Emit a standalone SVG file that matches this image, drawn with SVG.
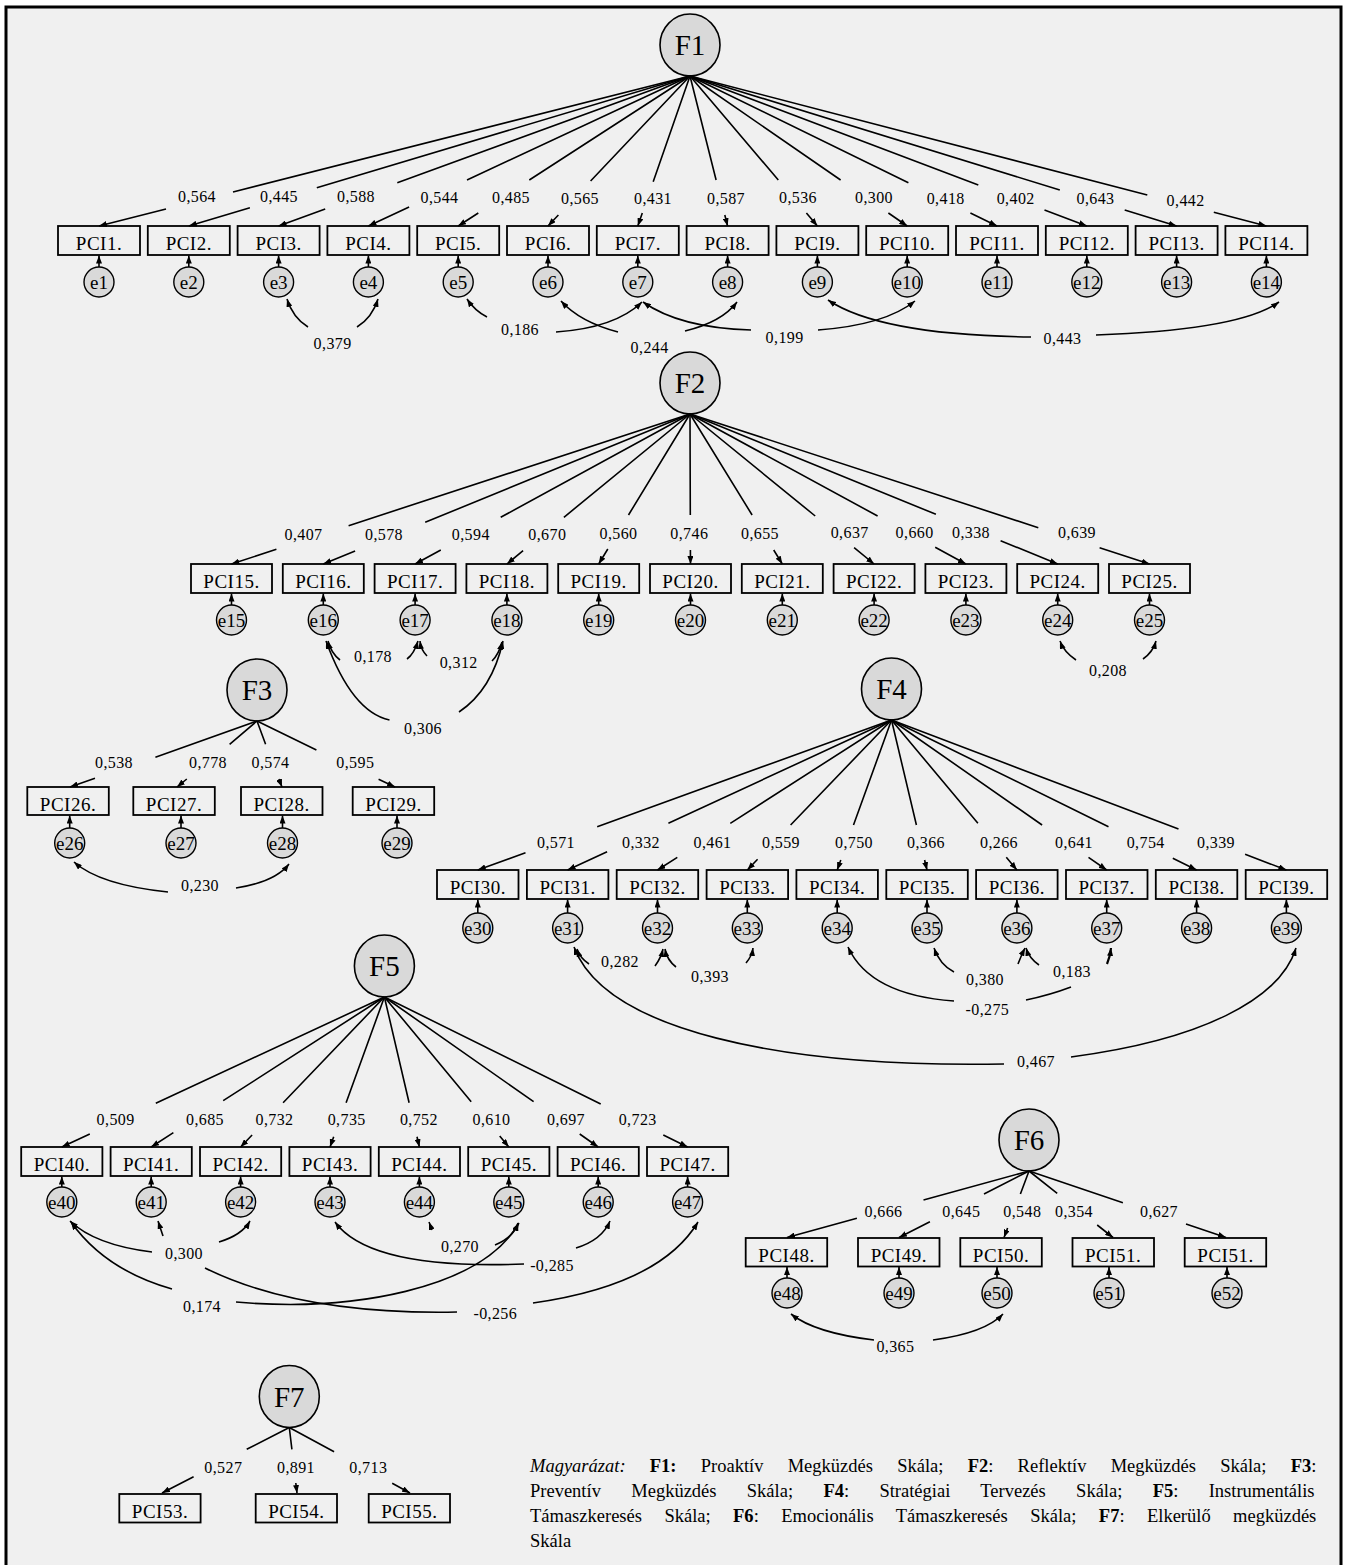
<svg xmlns="http://www.w3.org/2000/svg" width="1345" height="1565" viewBox="0 0 1345 1565">
<style>
.frame{fill:#f0f0f0;stroke:#000;stroke-width:3}
.lv{fill:#d9d9d9;stroke:#000;stroke-width:1.6}
.er{fill:#d9d9d9;stroke:#000;stroke-width:1.4}
.bx{fill:#f0f0f0;stroke:#000;stroke-width:1.8}
text{font-family:"Liberation Serif","Times New Roman",serif;fill:#000}
.fl{font-size:29px;text-anchor:middle}
.bl{font-size:19px;text-anchor:middle;letter-spacing:0.5px}
.el{font-size:19px;text-anchor:middle}
.nl text{font-size:16px;text-anchor:middle;letter-spacing:0.4px}
.lg{font-size:18.5px}
.cn path{fill:none;stroke:#000;stroke-width:1.6}
</style>
<defs>
<marker id="ah" viewBox="0 0 8 6" refX="8" refY="3" markerWidth="8" markerHeight="6" markerUnits="userSpaceOnUse" orient="auto"><path d="M0,0 L8,3 L0,6 z" fill="#000"/></marker>
</defs>
<rect width="1345" height="1565" fill="#fff"/>
<rect class="frame" x="6" y="7" width="1335" height="1600"/>

<!-- latent factors -->
<g id="F1"><ellipse class="lv" cx="690" cy="45" rx="30" ry="31"/><text class="fl" x="690" y="55">F1</text></g>
<g id="F2"><ellipse class="lv" cx="690" cy="383" rx="30" ry="31"/><text class="fl" x="690" y="393">F2</text></g>
<g id="F3"><ellipse class="lv" cx="257" cy="690" rx="30" ry="31"/><text class="fl" x="257" y="700">F3</text></g>
<g id="F4"><ellipse class="lv" cx="891.5" cy="689" rx="30" ry="31"/><text class="fl" x="891.5" y="699">F4</text></g>
<g id="F5"><ellipse class="lv" cx="384.4" cy="966" rx="30" ry="31"/><text class="fl" x="384.4" y="976">F5</text></g>
<g id="F6"><ellipse class="lv" cx="1029" cy="1140" rx="30" ry="31"/><text class="fl" x="1029" y="1150">F6</text></g>
<g id="F7"><ellipse class="lv" cx="289.3" cy="1396.5" rx="30" ry="31"/><text class="fl" x="289.3" y="1406.5">F7</text></g>

<!-- observed items F1 -->
<g id="PCI1"><rect class="bx" x="58" y="226" width="82" height="29"/><text class="bl" x="99" y="250">PCI1.</text></g>
<g id="PCI2"><rect class="bx" x="147.8" y="226" width="82" height="29"/><text class="bl" x="188.8" y="250">PCI2.</text></g>
<g id="PCI3"><rect class="bx" x="237.6" y="226" width="82" height="29"/><text class="bl" x="278.6" y="250">PCI3.</text></g>
<g id="PCI4"><rect class="bx" x="327.4" y="226" width="82" height="29"/><text class="bl" x="368.4" y="250">PCI4.</text></g>
<g id="PCI5"><rect class="bx" x="417.2" y="226" width="82" height="29"/><text class="bl" x="458.2" y="250">PCI5.</text></g>
<g id="PCI6"><rect class="bx" x="507" y="226" width="82" height="29"/><text class="bl" x="548" y="250">PCI6.</text></g>
<g id="PCI7"><rect class="bx" x="596.8" y="226" width="82" height="29"/><text class="bl" x="637.8" y="250">PCI7.</text></g>
<g id="PCI8"><rect class="bx" x="686.6" y="226" width="82" height="29"/><text class="bl" x="727.6" y="250">PCI8.</text></g>
<g id="PCI9"><rect class="bx" x="776.4" y="226" width="82" height="29"/><text class="bl" x="817.4" y="250">PCI9.</text></g>
<g id="PCI10"><rect class="bx" x="866.2" y="226" width="82" height="29"/><text class="bl" x="907.2" y="250">PCI10.</text></g>
<g id="PCI11"><rect class="bx" x="956" y="226" width="82" height="29"/><text class="bl" x="997" y="250">PCI11.</text></g>
<g id="PCI12"><rect class="bx" x="1045.8" y="226" width="82" height="29"/><text class="bl" x="1086.8" y="250">PCI12.</text></g>
<g id="PCI13"><rect class="bx" x="1135.6" y="226" width="82" height="29"/><text class="bl" x="1176.6" y="250">PCI13.</text></g>
<g id="PCI14"><rect class="bx" x="1225.4" y="226" width="82" height="29"/><text class="bl" x="1266.4" y="250">PCI14.</text></g>
<!-- F2 items -->
<g id="PCI15"><rect class="bx" x="191" y="564" width="81" height="29"/><text class="bl" x="231.5" y="588">PCI15.</text></g>
<g id="PCI16"><rect class="bx" x="282.8" y="564" width="81" height="29"/><text class="bl" x="323.3" y="588">PCI16.</text></g>
<g id="PCI17"><rect class="bx" x="374.6" y="564" width="81" height="29"/><text class="bl" x="415.1" y="588">PCI17.</text></g>
<g id="PCI18"><rect class="bx" x="466.4" y="564" width="81" height="29"/><text class="bl" x="506.9" y="588">PCI18.</text></g>
<g id="PCI19"><rect class="bx" x="558.2" y="564" width="81" height="29"/><text class="bl" x="598.7" y="588">PCI19.</text></g>
<g id="PCI20"><rect class="bx" x="650" y="564" width="81" height="29"/><text class="bl" x="690.5" y="588">PCI20.</text></g>
<g id="PCI21"><rect class="bx" x="741.8" y="564" width="81" height="29"/><text class="bl" x="782.3" y="588">PCI21.</text></g>
<g id="PCI22"><rect class="bx" x="833.6" y="564" width="81" height="29"/><text class="bl" x="874.1" y="588">PCI22.</text></g>
<g id="PCI23"><rect class="bx" x="925.4" y="564" width="81" height="29"/><text class="bl" x="965.9" y="588">PCI23.</text></g>
<g id="PCI24"><rect class="bx" x="1017.2" y="564" width="81" height="29"/><text class="bl" x="1057.7" y="588">PCI24.</text></g>
<g id="PCI25"><rect class="bx" x="1109" y="564" width="81" height="29"/><text class="bl" x="1149.5" y="588">PCI25.</text></g>
<!-- F3 items -->
<g id="PCI26"><rect class="bx" x="27.3" y="787" width="81.5" height="28"/><text class="bl" x="68" y="811">PCI26.</text></g>
<g id="PCI27"><rect class="bx" x="133.3" y="787" width="81.5" height="28"/><text class="bl" x="174" y="811">PCI27.</text></g>
<g id="PCI28"><rect class="bx" x="241" y="787" width="81.5" height="28"/><text class="bl" x="281.7" y="811">PCI28.</text></g>
<g id="PCI29"><rect class="bx" x="352.7" y="787" width="81.5" height="28"/><text class="bl" x="393.5" y="811">PCI29.</text></g>
<!-- F4 items -->
<g id="PCI30"><rect class="bx" x="437" y="870" width="81.5" height="29"/><text class="bl" x="477.8" y="894">PCI30.</text></g>
<g id="PCI31"><rect class="bx" x="526.9" y="870" width="81.5" height="29"/><text class="bl" x="567.6" y="894">PCI31.</text></g>
<g id="PCI32"><rect class="bx" x="616.7" y="870" width="81.5" height="29"/><text class="bl" x="657.5" y="894">PCI32.</text></g>
<g id="PCI33"><rect class="bx" x="706.6" y="870" width="81.5" height="29"/><text class="bl" x="747.3" y="894">PCI33.</text></g>
<g id="PCI34"><rect class="bx" x="796.4" y="870" width="81.5" height="29"/><text class="bl" x="837.2" y="894">PCI34.</text></g>
<g id="PCI35"><rect class="bx" x="886.3" y="870" width="81.5" height="29"/><text class="bl" x="927" y="894">PCI35.</text></g>
<g id="PCI36"><rect class="bx" x="976.1" y="870" width="81.5" height="29"/><text class="bl" x="1016.9" y="894">PCI36.</text></g>
<g id="PCI37"><rect class="bx" x="1066" y="870" width="81.5" height="29"/><text class="bl" x="1106.7" y="894">PCI37.</text></g>
<g id="PCI38"><rect class="bx" x="1155.8" y="870" width="81.5" height="29"/><text class="bl" x="1196.6" y="894">PCI38.</text></g>
<g id="PCI39"><rect class="bx" x="1245.7" y="870" width="81.5" height="29"/><text class="bl" x="1286.4" y="894">PCI39.</text></g>
<!-- F5 items -->
<g id="PCI40"><rect class="bx" x="21.2" y="1147" width="81.2" height="29"/><text class="bl" x="61.8" y="1171">PCI40.</text></g>
<g id="PCI41"><rect class="bx" x="110.6" y="1147" width="81.2" height="29"/><text class="bl" x="151.2" y="1171">PCI41.</text></g>
<g id="PCI42"><rect class="bx" x="200" y="1147" width="81.2" height="29"/><text class="bl" x="240.6" y="1171">PCI42.</text></g>
<g id="PCI43"><rect class="bx" x="289.4" y="1147" width="81.2" height="29"/><text class="bl" x="330" y="1171">PCI43.</text></g>
<g id="PCI44"><rect class="bx" x="378.8" y="1147" width="81.2" height="29"/><text class="bl" x="419.4" y="1171">PCI44.</text></g>
<g id="PCI45"><rect class="bx" x="468.2" y="1147" width="81.2" height="29"/><text class="bl" x="508.8" y="1171">PCI45.</text></g>
<g id="PCI46"><rect class="bx" x="557.6" y="1147" width="81.2" height="29"/><text class="bl" x="598.2" y="1171">PCI46.</text></g>
<g id="PCI47"><rect class="bx" x="647" y="1147" width="81.2" height="29"/><text class="bl" x="687.6" y="1171">PCI47.</text></g>
<!-- F6 items -->
<g id="PCI48"><rect class="bx" x="745.7" y="1238" width="81.5" height="28.5"/><text class="bl" x="786.5" y="1262">PCI48.</text></g>
<g id="PCI49"><rect class="bx" x="858" y="1238" width="81.5" height="28.5"/><text class="bl" x="898.8" y="1262">PCI49.</text></g>
<g id="PCI50"><rect class="bx" x="960.3" y="1238" width="81.5" height="28.5"/><text class="bl" x="1001" y="1262">PCI50.</text></g>
<g id="PCI51"><rect class="bx" x="1072.5" y="1238" width="81.5" height="28.5"/><text class="bl" x="1113.2" y="1262">PCI51.</text></g>
<g id="PCI51b"><rect class="bx" x="1184.7" y="1238" width="81.5" height="28.5"/><text class="bl" x="1225.5" y="1262">PCI51.</text></g>
<!-- F7 items -->
<g id="PCI53"><rect class="bx" x="119.3" y="1494" width="81.3" height="28.5"/><text class="bl" x="160" y="1518">PCI53.</text></g>
<g id="PCI54"><rect class="bx" x="255.7" y="1494" width="81.3" height="28.5"/><text class="bl" x="296.3" y="1518">PCI54.</text></g>
<g id="PCI55"><rect class="bx" x="368.7" y="1494" width="81.3" height="28.5"/><text class="bl" x="409.3" y="1518">PCI55.</text></g>

<!-- error terms -->
<g id="e1"><circle class="er" cx="99" cy="282" r="15"/><text class="el" x="99" y="289">e1</text></g>
<g id="e2"><circle class="er" cx="188.8" cy="282" r="15"/><text class="el" x="188.8" y="289">e2</text></g>
<g id="e3"><circle class="er" cx="278.6" cy="282" r="15"/><text class="el" x="278.6" y="289">e3</text></g>
<g id="e4"><circle class="er" cx="368.4" cy="282" r="15"/><text class="el" x="368.4" y="289">e4</text></g>
<g id="e5"><circle class="er" cx="458.2" cy="282" r="15"/><text class="el" x="458.2" y="289">e5</text></g>
<g id="e6"><circle class="er" cx="548" cy="282" r="15"/><text class="el" x="548" y="289">e6</text></g>
<g id="e7"><circle class="er" cx="637.8" cy="282" r="15"/><text class="el" x="637.8" y="289">e7</text></g>
<g id="e8"><circle class="er" cx="727.6" cy="282" r="15"/><text class="el" x="727.6" y="289">e8</text></g>
<g id="e9"><circle class="er" cx="817.4" cy="282" r="15"/><text class="el" x="817.4" y="289">e9</text></g>
<g id="e10"><circle class="er" cx="907.2" cy="282" r="15"/><text class="el" x="907.2" y="289">e10</text></g>
<g id="e11"><circle class="er" cx="997" cy="282" r="15"/><text class="el" x="997" y="289">e11</text></g>
<g id="e12"><circle class="er" cx="1086.8" cy="282" r="15"/><text class="el" x="1086.8" y="289">e12</text></g>
<g id="e13"><circle class="er" cx="1176.6" cy="282" r="15"/><text class="el" x="1176.6" y="289">e13</text></g>
<g id="e14"><circle class="er" cx="1266.4" cy="282" r="15"/><text class="el" x="1266.4" y="289">e14</text></g>
<g id="e15"><circle class="er" cx="231.5" cy="620" r="15"/><text class="el" x="231.5" y="627">e15</text></g>
<g id="e16"><circle class="er" cx="323.3" cy="620" r="15"/><text class="el" x="323.3" y="627">e16</text></g>
<g id="e17"><circle class="er" cx="415.1" cy="620" r="15"/><text class="el" x="415.1" y="627">e17</text></g>
<g id="e18"><circle class="er" cx="506.9" cy="620" r="15"/><text class="el" x="506.9" y="627">e18</text></g>
<g id="e19"><circle class="er" cx="598.7" cy="620" r="15"/><text class="el" x="598.7" y="627">e19</text></g>
<g id="e20"><circle class="er" cx="690.5" cy="620" r="15"/><text class="el" x="690.5" y="627">e20</text></g>
<g id="e21"><circle class="er" cx="782.3" cy="620" r="15"/><text class="el" x="782.3" y="627">e21</text></g>
<g id="e22"><circle class="er" cx="874.1" cy="620" r="15"/><text class="el" x="874.1" y="627">e22</text></g>
<g id="e23"><circle class="er" cx="965.9" cy="620" r="15"/><text class="el" x="965.9" y="627">e23</text></g>
<g id="e24"><circle class="er" cx="1057.7" cy="620" r="15"/><text class="el" x="1057.7" y="627">e24</text></g>
<g id="e25"><circle class="er" cx="1149.5" cy="620" r="15"/><text class="el" x="1149.5" y="627">e25</text></g>
<g id="e26"><circle class="er" cx="69.7" cy="843" r="15"/><text class="el" x="69.7" y="850">e26</text></g>
<g id="e27"><circle class="er" cx="181" cy="843" r="15"/><text class="el" x="181" y="850">e27</text></g>
<g id="e28"><circle class="er" cx="282.5" cy="843" r="15"/><text class="el" x="282.5" y="850">e28</text></g>
<g id="e29"><circle class="er" cx="397" cy="843" r="15"/><text class="el" x="397" y="850">e29</text></g>
<g id="e30"><circle class="er" cx="477.8" cy="928" r="15"/><text class="el" x="477.8" y="935">e30</text></g>
<g id="e31"><circle class="er" cx="567.6" cy="928" r="15"/><text class="el" x="567.6" y="935">e31</text></g>
<g id="e32"><circle class="er" cx="657.5" cy="928" r="15"/><text class="el" x="657.5" y="935">e32</text></g>
<g id="e33"><circle class="er" cx="747.3" cy="928" r="15"/><text class="el" x="747.3" y="935">e33</text></g>
<g id="e34"><circle class="er" cx="837.2" cy="928" r="15"/><text class="el" x="837.2" y="935">e34</text></g>
<g id="e35"><circle class="er" cx="927" cy="928" r="15"/><text class="el" x="927" y="935">e35</text></g>
<g id="e36"><circle class="er" cx="1016.9" cy="928" r="15"/><text class="el" x="1016.9" y="935">e36</text></g>
<g id="e37"><circle class="er" cx="1106.7" cy="928" r="15"/><text class="el" x="1106.7" y="935">e37</text></g>
<g id="e38"><circle class="er" cx="1196.6" cy="928" r="15"/><text class="el" x="1196.6" y="935">e38</text></g>
<g id="e39"><circle class="er" cx="1286.4" cy="928" r="15"/><text class="el" x="1286.4" y="935">e39</text></g>
<g id="e40"><circle class="er" cx="61.8" cy="1202" r="15"/><text class="el" x="61.8" y="1209">e40</text></g>
<g id="e41"><circle class="er" cx="151.2" cy="1202" r="15"/><text class="el" x="151.2" y="1209">e41</text></g>
<g id="e42"><circle class="er" cx="240.6" cy="1202" r="15"/><text class="el" x="240.6" y="1209">e42</text></g>
<g id="e43"><circle class="er" cx="330" cy="1202" r="15"/><text class="el" x="330" y="1209">e43</text></g>
<g id="e44"><circle class="er" cx="419.4" cy="1202" r="15"/><text class="el" x="419.4" y="1209">e44</text></g>
<g id="e45"><circle class="er" cx="508.8" cy="1202" r="15"/><text class="el" x="508.8" y="1209">e45</text></g>
<g id="e46"><circle class="er" cx="598.2" cy="1202" r="15"/><text class="el" x="598.2" y="1209">e46</text></g>
<g id="e47"><circle class="er" cx="687.6" cy="1202" r="15"/><text class="el" x="687.6" y="1209">e47</text></g>
<g id="e48"><circle class="er" cx="787" cy="1293" r="15"/><text class="el" x="787" y="1300">e48</text></g>
<g id="e49"><circle class="er" cx="899" cy="1293" r="15"/><text class="el" x="899" y="1300">e49</text></g>
<g id="e50"><circle class="er" cx="997" cy="1293" r="15"/><text class="el" x="997" y="1300">e50</text></g>
<g id="e51"><circle class="er" cx="1109" cy="1293" r="15"/><text class="el" x="1109" y="1300">e51</text></g>
<g id="e52"><circle class="er" cx="1227" cy="1293" r="15"/><text class="el" x="1227" y="1300">e52</text></g>

<!-- connectors -->
<g id="connectors" class="cn" marker-end="url(#ah)">
<!-- F1 loadings -->
<path d="M690 76 L233 192 M166 209 L99 226"/>
<path d="M690 76 L316.8 187.7 M249.9 207.7 L188.8 226"/>
<path d="M690 76 L397.3 182.7 M325.2 209 L278.6 226"/>
<path d="M690 76 L467 180 M409.1 207 L368.4 226"/>
<path d="M690 76 L529.3 180 M478.3 213 L458.2 226"/>
<path d="M690 76 L590.6 181 M558.4 215 L548 226"/>
<path d="M690 76 L653.2 181.7 M642.3 213 L637.8 226"/>
<path d="M690 76 L716.1 180 M724.8 215 L727.6 226"/>
<path d="M690 76 L778.3 180 M806.4 213 L817.4 226"/>
<path d="M690 76 L840.6 180 M888.4 213 L907.2 226"/>
<path d="M690 76 L908.4 182.7 M970.4 213 L997 226"/>
<path d="M690 76 L978.3 185 M1044.5 210 L1086.8 226"/>
<path d="M690 76 L1059.8 190 M1124.7 210 L1176.6 226"/>
<path d="M690 76 L1147.3 195 M1213.8 212.3 L1266.4 226"/>
<!-- F2 loadings -->
<path d="M690 414 L348.6 525.7 M276.4 549.3 L231.5 564"/>
<path d="M690 414 L425.2 522.3 M355.1 551 L323.3 564"/>
<path d="M690 414 L500.7 517.3 M440.8 550 L415.1 564"/>
<path d="M690 414 L563.9 517.3 M523.1 550.7 L506.9 564"/>
<path d="M690 414 L628.5 515 M607.8 549 L598.7 564"/>
<path d="M690 414 L690.3 515 M690.4 550 L690.5 564"/>
<path d="M690 414 L752.1 515 M773.7 550 L782.3 564"/>
<path d="M690 414 L815.2 516 M854.1 547.7 L874.1 564"/>
<path d="M690 414 L877.6 516 M935.2 547.3 L965.9 564"/>
<path d="M690 414 L935.9 514.3 M1000.6 540.7 L1057.7 564"/>
<path d="M690 414 L1038.3 527.7 M1099.6 547.7 L1149.5 564"/>
<!-- F3 loadings -->
<path d="M257 721 L155.4 757.3 M95 778.3 L70 787"/>
<path d="M257 721 L229.6 744.3 M186.8 779 L177 787"/>
<path d="M257 721 L265.6 744.3 M278.9 779 L282 787"/>
<path d="M257 721 L316.4 750 M378.6 779.3 L395 787"/>
<!-- F4 loadings -->
<path d="M891.5 720 L597.2 826.7 M525.5 852.7 L477.8 870"/>
<path d="M891.5 720 L668.4 823.3 M607.1 851.7 L567.6 870"/>
<path d="M891.5 720 L730.3 823.3 M677.3 857.3 L657.5 870"/>
<path d="M891.5 720 L790.6 825 M757.6 859.3 L747.3 870"/>
<path d="M891.5 720 L853.5 825 M840.8 860 L837.2 870"/>
<path d="M891.5 720 L916.4 825 M924.6 860 L927 870"/>
<path d="M891.5 720 L977.9 823.3 M1006.3 857.3 L1016.9 870"/>
<path d="M891.5 720 L1042.1 825 M1088.5 857.3 L1106.7 870"/>
<path d="M891.5 720 L1108.5 826.7 M1172.8 858.3 L1196.6 870"/>
<path d="M891.5 720 L1178.5 829 M1245.1 854.3 L1286.4 870"/>
<!-- F5 loadings -->
<path d="M384.4 997 L155.8 1103.3 M89.8 1134 L61.8 1147"/>
<path d="M384.4 997 L223.2 1100.7 M173.4 1132.7 L151.2 1147"/>
<path d="M384.4 997 L283.1 1102.7 M252.1 1135 L240.6 1147"/>
<path d="M384.4 997 L346.1 1102.7 M333.7 1136.7 L330 1147"/>
<path d="M384.4 997 L409.1 1102.7 M417 1136.7 L419.4 1147"/>
<path d="M384.4 997 L471.2 1101.7 M499.7 1136 L508.8 1147"/>
<path d="M384.4 997 L533.6 1101.7 M579.7 1134 L598.2 1147"/>
<path d="M384.4 997 L600.7 1104 M663.3 1135 L687.6 1147"/>
<!-- F6 loadings -->
<path d="M1029 1171 L923.5 1200 M856.9 1218.3 L787 1237.5"/>
<path d="M1029 1171 L984 1194 M929.9 1221.7 L899 1237.5"/>
<path d="M1029 1171 L1020.4 1194 M1007.6 1228 L1004 1237.5"/>
<path d="M1029 1171 L1057.2 1193.3 M1097.2 1225 L1113 1237.5"/>
<path d="M1029 1171 L1122.9 1202.7 M1186 1224 L1226 1237.5"/>
<!-- F7 loadings -->
<path d="M289.3 1427.5 L246.7 1449.3 M193.6 1476.7 L162 1493"/>
<path d="M289.3 1427.5 L291.9 1449.3 M295.8 1483 L297 1493"/>
<path d="M289.3 1427.5 L334.1 1451.7 M392.2 1483.3 L410 1493"/>
<!-- error paths -->
<path d="M99 267 V255.5"/><path d="M188.8 267 V255.5"/><path d="M278.6 267 V255.5"/><path d="M368.4 267 V255.5"/><path d="M458.2 267 V255.5"/><path d="M548 267 V255.5"/><path d="M637.8 267 V255.5"/><path d="M727.6 267 V255.5"/><path d="M817.4 267 V255.5"/><path d="M907.2 267 V255.5"/><path d="M997 267 V255.5"/><path d="M1086.8 267 V255.5"/><path d="M1176.6 267 V255.5"/><path d="M1266.4 267 V255.5"/>
<path d="M231.5 605 V593.5"/><path d="M323.3 605 V593.5"/><path d="M415.1 605 V593.5"/><path d="M506.9 605 V593.5"/><path d="M598.7 605 V593.5"/><path d="M690.5 605 V593.5"/><path d="M782.3 605 V593.5"/><path d="M874.1 605 V593.5"/><path d="M965.9 605 V593.5"/><path d="M1057.7 605 V593.5"/><path d="M1149.5 605 V593.5"/>
<path d="M69.7 828 V815.5"/><path d="M181 828 V815.5"/><path d="M282.5 828 V815.5"/><path d="M397 828 V815.5"/>
<path d="M477.8 913 V899.5"/><path d="M567.6 913 V899.5"/><path d="M657.5 913 V899.5"/><path d="M747.3 913 V899.5"/><path d="M837.2 913 V899.5"/><path d="M927 913 V899.5"/><path d="M1016.9 913 V899.5"/><path d="M1106.7 913 V899.5"/><path d="M1196.6 913 V899.5"/><path d="M1286.4 913 V899.5"/>
<path d="M61.8 1187 V1176.5"/><path d="M151.2 1187 V1176.5"/><path d="M240.6 1187 V1176.5"/><path d="M330 1187 V1176.5"/><path d="M419.4 1187 V1176.5"/><path d="M508.8 1187 V1176.5"/><path d="M598.2 1187 V1176.5"/><path d="M687.6 1187 V1176.5"/>
<path d="M787 1278 V1267"/><path d="M899 1278 V1267"/><path d="M997 1278 V1267"/><path d="M1109 1278 V1267"/><path d="M1227 1278 V1267"/>
<!-- covariances F1 -->
<path d="M308 327 Q293 318 287 299"/>
<path d="M357 327 Q372 318 378 299"/>
<path d="M487 317 Q475 311 467 299"/>
<path d="M556 332 Q615 328 642 302"/>
<path d="M618 332 Q580 322 561 301"/>
<path d="M685 331 Q722 322 737 302"/>
<path d="M751 330 Q680 328 643 302"/>
<path d="M818 330 Q885 325 915 301"/>
<path d="M1031 337 Q880 335 828 300"/>
<path d="M1096 335 Q1240 330 1279 302"/>
<!-- covariances F2 -->
<path d="M389.5 720 Q352 712 326 641"/>
<path d="M459 712 Q492 690 503 641"/>
<path d="M340 660 Q331 653 328 641"/>
<path d="M407 659 Q414 654 418 641"/>
<path d="M427 656 Q421 650 420 641"/>
<path d="M492 661 Q499 654 502 642"/>
<path d="M1076 660 Q1064 652 1060 641"/>
<path d="M1143 659 Q1153 652 1156 641"/>
<!-- covariances F3 -->
<path d="M168 892 Q100 885 74 862"/>
<path d="M236 888 Q275 882 289 864"/>
<!-- covariances F4 -->
<path d="M1004 1064 C780 1068 605 1030 574 947"/>
<path d="M1071 1057 C1200 1040 1280 1000 1296 948"/>
<path d="M589 964 Q580 958 577 949"/>
<path d="M655 966 Q661 958 663 949"/>
<path d="M676 967 Q667 960 665 949"/>
<path d="M746 963 Q752 956 753 948"/>
<path d="M954 1001 Q870 995 848 947"/>
<path d="M1026 1000 Q1050 995 1071 987" marker-end="none"/>
<path d="M954 972 Q940 965 934 948"/>
<path d="M1018 964 Q1021 956 1025 948"/>
<path d="M1039 965 Q1029 958 1026 948"/>
<path d="M1107 964 Q1110 957 1111 948" style="stroke-width:2.2"/>
<!-- covariances F5 -->
<path d="M152 1252 Q95 1245 70 1221"/>
<path d="M219 1242 Q242 1235 250 1221"/>
<path d="M163 1236 L158 1221"/>
<path d="M205 1268 Q300 1315 457 1312" marker-end="none"/>
<path d="M533 1303 Q660 1285 698 1222"/>
<path d="M172 1289 Q105 1270 71 1222"/>
<path d="M236 1302 C350 1312 480 1290 519 1223"/>
<path d="M524 1264 Q370 1270 335 1222"/>
<path d="M576 1248 Q602 1240 610 1221"/>
<path d="M432 1230 L429 1222"/>
<path d="M495 1245 Q513 1238 518 1223"/>
<!-- covariances F6 -->
<path d="M874 1340 Q815 1333 791 1314"/>
<path d="M933 1340 Q985 1333 1003 1314"/>
</g>

<!-- path labels -->
<g id="path-labels" class="nl">
<text x="197" y="201.5">0,564</text><text x="279" y="201.5">0,445</text><text x="356" y="201.5">0,588</text><text x="439.5" y="202.5">0,544</text><text x="511" y="202.5">0,485</text><text x="580" y="203.5">0,565</text><text x="653" y="203.5">0,431</text><text x="726" y="203.5">0,587</text><text x="798" y="202.5">0,536</text><text x="874" y="202.5">0,300</text><text x="945.7" y="203.5">0,418</text><text x="1015.7" y="203.5">0,402</text><text x="1095.5" y="203.5">0,643</text><text x="1185.6" y="205.5">0,442</text>
<text x="332.6" y="348.5">0,379</text><text x="520" y="334.5">0,186</text><text x="649.6" y="353">0,244</text><text x="784.6" y="342.5">0,199</text><text x="1062.5" y="343.5">0,443</text>
<text x="303.5" y="539.5">0,407</text><text x="384" y="539.5">0,578</text><text x="470.8" y="539.5">0,594</text><text x="547.3" y="539.5">0,670</text><text x="618.5" y="538.5">0,560</text><text x="689.3" y="538.5">0,746</text><text x="760" y="538.5">0,655</text><text x="849.7" y="537.5">0,637</text><text x="914.6" y="537.5">0,660</text><text x="971" y="537.5">0,338</text><text x="1077" y="537.5">0,639</text>
<text x="423" y="734">0,306</text><text x="373" y="662">0,178</text><text x="458.7" y="668">0,312</text><text x="1108" y="676">0,208</text>
<text x="114" y="768">0,538</text><text x="208" y="768">0,778</text><text x="270.5" y="768">0,574</text><text x="355.3" y="768">0,595</text>
<text x="200" y="890.5">0,230</text>
<text x="556" y="848">0,571</text><text x="641" y="848">0,332</text><text x="712.5" y="848">0,461</text><text x="781" y="848">0,559</text><text x="854" y="848">0,750</text><text x="926" y="848">0,366</text><text x="999" y="848">0,266</text><text x="1074" y="848">0,641</text><text x="1145.7" y="848">0,754</text><text x="1216" y="848">0,339</text>
<text x="620" y="967">0,282</text><text x="710" y="981.5">0,393</text><text x="985" y="985">0,380</text><text x="1072" y="976.5">0,183</text><text x="987.4" y="1015">-0,275</text><text x="1036" y="1067">0,467</text>
<text x="115.6" y="1124.5">0,509</text><text x="205" y="1124.5">0,685</text><text x="274.5" y="1124.5">0,732</text><text x="346.7" y="1124.5">0,735</text><text x="418.9" y="1124.5">0,752</text><text x="491.5" y="1124.5">0,610</text><text x="566" y="1124.5">0,697</text><text x="637.7" y="1124.5">0,723</text>
<text x="184" y="1259">0,300</text><text x="460" y="1252">0,270</text><text x="552" y="1270.5">-0,285</text><text x="202" y="1311.5">0,174</text><text x="495.3" y="1319">-0,256</text>
<text x="883.5" y="1216.5">0,666</text><text x="961.3" y="1216.5">0,645</text><text x="1022.3" y="1216.5">0,548</text><text x="1074" y="1216.5">0,354</text><text x="1159" y="1216.5">0,627</text>
<text x="895.4" y="1352">0,365</text>
<text x="223.3" y="1472.5">0,527</text><text x="296" y="1472.5">0,891</text><text x="368.3" y="1472.5">0,713</text>
</g>

<!-- legend -->
<g id="legend">
<text class="lg" x="530" y="1472" word-spacing="19.6"><tspan font-style="italic">Magyarázat:</tspan> <tspan font-weight="bold">F1:</tspan> Proaktív Megküzdés Skála; <tspan font-weight="bold">F2</tspan>: Reflektív Megküzdés Skála; <tspan font-weight="bold">F3</tspan>:</text>
<text class="lg" x="530" y="1497" word-spacing="25.7">Preventív Megküzdés Skála; <tspan font-weight="bold">F4</tspan>: Stratégiai Tervezés Skála; <tspan font-weight="bold">F5</tspan>: Instrumentális</text>
<text class="lg" x="530" y="1522" word-spacing="17.8">Támaszkeresés Skála; <tspan font-weight="bold">F6</tspan>: Emocionális Támaszkeresés Skála; <tspan font-weight="bold">F7</tspan>: Elkerülő megküzdés</text>
<text class="lg" x="530" y="1547">Skála</text>
</g>
</svg>
